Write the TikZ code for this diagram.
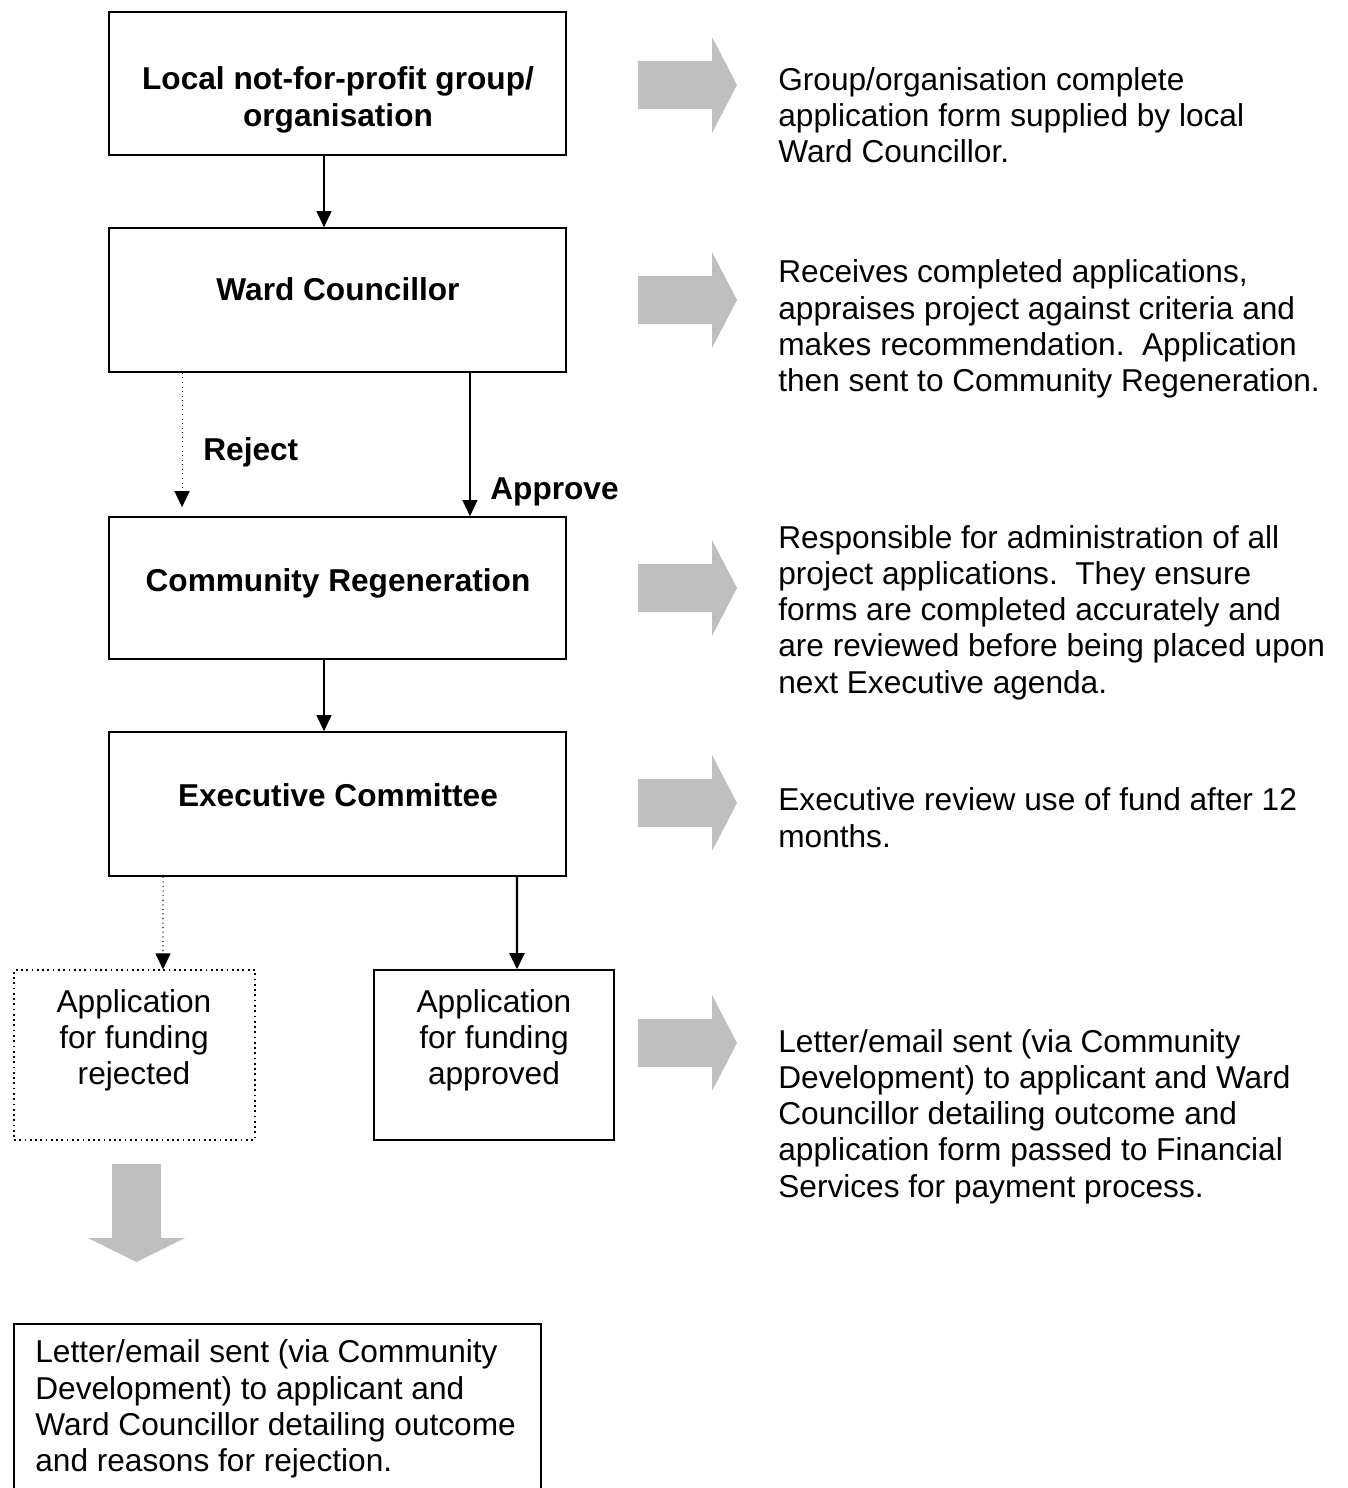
\documentclass[tikz,border=0pt]{standalone}
\usepackage{fontspec}
\setmainfont{Liberation Sans}
\usetikzlibrary{arrows.meta}

\begin{document}
\begin{tikzpicture}[x=0.02cm,y=-0.02cm,
  box/.style={draw,line width=1pt,inner sep=0pt},
  title/.style={font=\bfseries\fontsize{18}{20.6}\selectfont,align=center,anchor=base,inner sep=0pt},
  boxtext/.style={font=\fontsize{18}{20.6}\selectfont,align=center,anchor=base,inner sep=0pt},
  note/.style={font=\fontsize{18}{20.6}\selectfont,align=left,anchor=base west,inner sep=0pt},
  flow/.style={-{Triangle[width=0.3cm,length=0.32cm]},line width=0.6pt},
  grey arrow/.style={fill=black!25}]

\useasboundingbox (0,0) rectangle (1348,1488);

% Main column of boxes
\node[box,minimum width=9.14cm,minimum height=2.86cm] (group) at (337.5,83.5) {};
\node[box,minimum width=9.14cm,minimum height=2.88cm] (council) at (337.5,300) {};
\node[box,minimum width=9.14cm,minimum height=2.84cm] (regen) at (337.5,588) {};
\node[box,minimum width=9.14cm,minimum height=2.88cm] (exec) at (337.5,804) {};

% (multi-line nodes sit on the baseline of their last line)
\node[title] (grouptitle) at (338,126) {Local not-for-profit group/\\organisation};
\node[title] (counciltitle) at (338,300) {Ward Councillor};
\node[title] (regentitle) at (338,591) {Community Regeneration};
\node[title] (exectitle) at (338,806) {Executive Committee};

% Outcome boxes
\node[box,dotted,line width=0.7pt,minimum width=4.82cm,minimum height=3.4cm] (rejbox) at (134.5,1055) {};
\node[box,line width=0.9pt,minimum width=4.8cm,minimum height=3.4cm] (appbox) at (494,1055) {};
\node[boxtext] (rejtext) at (134,1084.5) {Application\\for funding\\rejected};
\node[boxtext] (apptext) at (494,1084.5) {Application\\for funding\\approved};

% Connectors
\draw[flow] ([xshift=-0.27cm]group.south) -- ([xshift=-0.27cm]council.north);
\draw[flow,dotted] ([xshift=-3.11cm]council.south) -- ([xshift=-3.11cm,yshift=0.18cm]regen.north);
\draw[flow] ([xshift=2.65cm]council.south) -- ([xshift=2.65cm]regen.north);
\draw[flow] ([xshift=-0.27cm]regen.south) -- ([xshift=-0.27cm]exec.north);
\draw[flow,dotted] ([xshift=-3.49cm]exec.south) -- ([xshift=0.57cm]rejbox.north);
\draw[flow,line width=1.2pt] ([xshift=3.59cm]exec.south) -- ([xshift=0.46cm]appbox.north);

\node[title,anchor=base west] (reject) at (203,460) {Reject};
\node[title,anchor=base west] (approve) at (490,499) {Approve};

% Grey block arrows
\foreach \y in {85,300,588,803,1043} {
  \fill[grey arrow] (638,\y-24) -- (712,\y-24) -- (712,\y-48) -- (737,\y)
    -- (712,\y+48) -- (712,\y+24) -- (638,\y+24) -- cycle;
}
\fill[grey arrow] (112,1164) -- (161,1164) -- (161,1238) -- (185,1238)
  -- (136.5,1262) -- (88,1238) -- (112,1238) -- cycle;

% Notes (right)
\node[note] (note1) at (778,162.5) {Group/organisation complete\\application form supplied by local\\Ward Councillor.};
\node[note] (note2) at (778,391.5) {Receives completed applications,\\appraises project against criteria and\\makes recommendation.\ \ Application\\then sent to Community Regeneration.};
\node[note] (note3) at (778,693) {Responsible for administration of all\\project applications.\ \ They ensure\\forms are completed accurately and\\are reviewed before being placed upon\\next Executive agenda.};
\node[note] (note4) at (778,847) {Executive review use of fund after 12\\months.};
\node[note] (note5) at (778,1197) {Letter/email sent (via Community\\Development) to applicant and Ward\\Councillor detailing outcome and\\application form passed to Financial\\Services for payment process.};

% Rejection letter (bottom)
\draw[line width=1pt] (14,1488) |- (541,1324) -- (541,1488);
\node[note] (refusal) at (35,1471.5) {Letter/email sent (via Community\\Development) to applicant and\\Ward Councillor detailing outcome\\and reasons for rejection.};
\end{tikzpicture}
\end{document}
